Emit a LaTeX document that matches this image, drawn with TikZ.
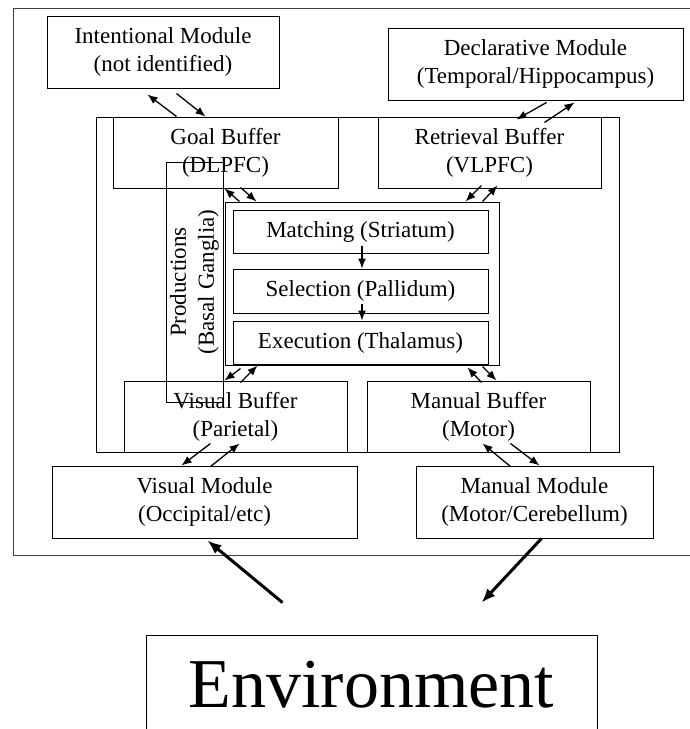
\documentclass[tikz,border=0pt]{standalone}
\usepackage{fontspec}
\setmainfont{Liberation Serif}
\usetikzlibrary{positioning,arrows.meta}

\begin{document}
\begin{tikzpicture}[
    x=1pt, y=-1pt,
    box/.style={rectangle, draw, line width=1pt, inner sep=0pt, align=center, font=\fontsize{23}{28}\selectfont},
    arrow/.style={-{Latex[length=10pt,width=8pt]}, line width=1.3pt},
    bigarrow/.style={-{Latex[length=14pt,width=11pt]}, line width=3pt}
]
    \clip (0,0) rectangle (690,729);

    % frames
    \draw[line width=0.8pt, black!75] (13,8) rectangle (720,555);
    \draw[line width=1pt] (96,117) rectangle (619,452);

    % modules and buffers
    \node[box, minimum width=232pt, minimum height=72pt] (intent) at (163,52) {Intentional Module\\(not identified)};
    \node[box, minimum width=295pt, minimum height=72pt] (decl) at (535.5,64) {Declarative Module\\(Temporal/Hippocampus)};
    \node[box, minimum width=225pt, minimum height=71pt] (goal) at (225.5,152.5) {Goal Buffer\\(DLPFC)};
    \node[box, minimum width=223pt, minimum height=71pt] (retr) at (489.5,152.5) {Retrieval Buffer\\(VLPFC)};
    \node[box, minimum width=223pt, minimum height=71pt] (vbuf) at (235.5,416.5) {Visual Buffer\\(Parietal)};
    \node[box, minimum width=223pt, minimum height=71pt] (mbuf) at (478.5,416.5) {Manual Buffer\\(Motor)};
    \node[box, minimum width=305pt, minimum height=72pt] (vmod) at (204.5,502) {Visual Module\\(Occipital/etc)};
    \node[box, minimum width=237pt, minimum height=72pt] (mmod) at (534.5,502) {Manual Module\\(Motor/Cerebellum)};

    % productions
    \node[box, rotate=90, minimum width=240pt, minimum height=57pt] (prod) at (194.5,282) {Productions\\(Basal Ganglia)};
    \node[rectangle, draw, line width=1pt, minimum width=274pt, minimum height=163pt] (inner) at (362,283.5) {};
    \node[box, minimum width=255pt, minimum height=43pt] (match) at (360.5,231.5) {Matching (Striatum)};
    \node[box, minimum width=255pt, minimum height=44pt] (sel) at (360.5,291) {Selection (Pallidum)};
    \node[box, minimum width=255pt, minimum height=43pt] (exec) at (360.5,342.5) {Execution (Thalamus)};

    \node[box, line width=0.8pt, minimum width=451pt, minimum height=100pt, font=\fontsize{70}{80}\selectfont] (env) at (371.5,685) {Environment};

    % buffer traffic
    \draw[arrow] ([xshift=64pt]goal.north west) -- ([xshift=101pt,yshift=-6pt]intent.south west);
    \draw[arrow] ([xshift=130pt,yshift=-5pt]intent.south west) -- ([xshift=93pt]goal.north west);
    \draw[arrow] ([xshift=159pt,yshift=-2pt]decl.south west) -- ([xshift=139pt,yshift=-3pt]retr.north west);
    \draw[arrow] ([xshift=167pt,yshift=-6pt]retr.north west) -- ([xshift=187pt,yshift=-2pt]decl.south west);

    \draw[arrow] ([xshift=15pt]inner.north west) -- ([xshift=112pt]goal.south west);
    \draw[arrow] ([xshift=128pt,yshift=1pt]goal.south west) -- ([xshift=32pt]inner.north west);
    \draw[arrow] ([xshift=104pt,yshift=3pt]retr.south west) -- ([xshift=-34pt]inner.north east);
    \draw[arrow] ([xshift=-17pt]inner.north east) -- ([xshift=120pt,yshift=3pt]retr.south west);

    \draw[arrow] ([xshift=16pt,yshift=-3pt]inner.south west) -- ([xshift=101pt]vbuf.north west);
    \draw[arrow] ([xshift=117pt,yshift=-2pt]vbuf.north west) -- ([xshift=33pt]inner.south west);
    \draw[arrow] ([xshift=115pt,yshift=-2pt]mbuf.north west) -- ([xshift=-32pt,yshift=-2pt]inner.south east);
    \draw[arrow] ([xshift=-17pt,yshift=-1pt]inner.south east) -- ([xshift=130pt]mbuf.north west);

    \draw[arrow] ([xshift=87pt,yshift=9pt]vbuf.south west) -- ([xshift=130pt]vmod.north west);
    \draw[arrow] ([xshift=159pt,yshift=-1pt]vmod.north west) -- ([xshift=116pt,yshift=9pt]vbuf.south west);
    \draw[arrow] ([xshift=95pt,yshift=-1pt]mmod.north west) -- ([xshift=116pt,yshift=9pt]mbuf.south west);
    \draw[arrow] ([xshift=144pt,yshift=9pt]mbuf.south west) -- ([xshift=124pt]mmod.north west);

    % production cycle
    \draw[arrow] ([xshift=1.5pt,yshift=8pt]match.south) -- ([xshift=1.5pt]sel.north);
    \draw[arrow] ([xshift=1.5pt,yshift=10pt]sel.south) -- ([xshift=1.5pt]exec.north);

    % environment
    \draw[bigarrow] ([xshift=137pt,yshift=32pt]env.north west) -- ([xshift=156pt,yshift=-2pt]vmod.south west);
    \draw[bigarrow] ([xshift=126pt]mmod.south west) -- ([xshift=336pt,yshift=32pt]env.north west);
\end{tikzpicture}
\end{document}
